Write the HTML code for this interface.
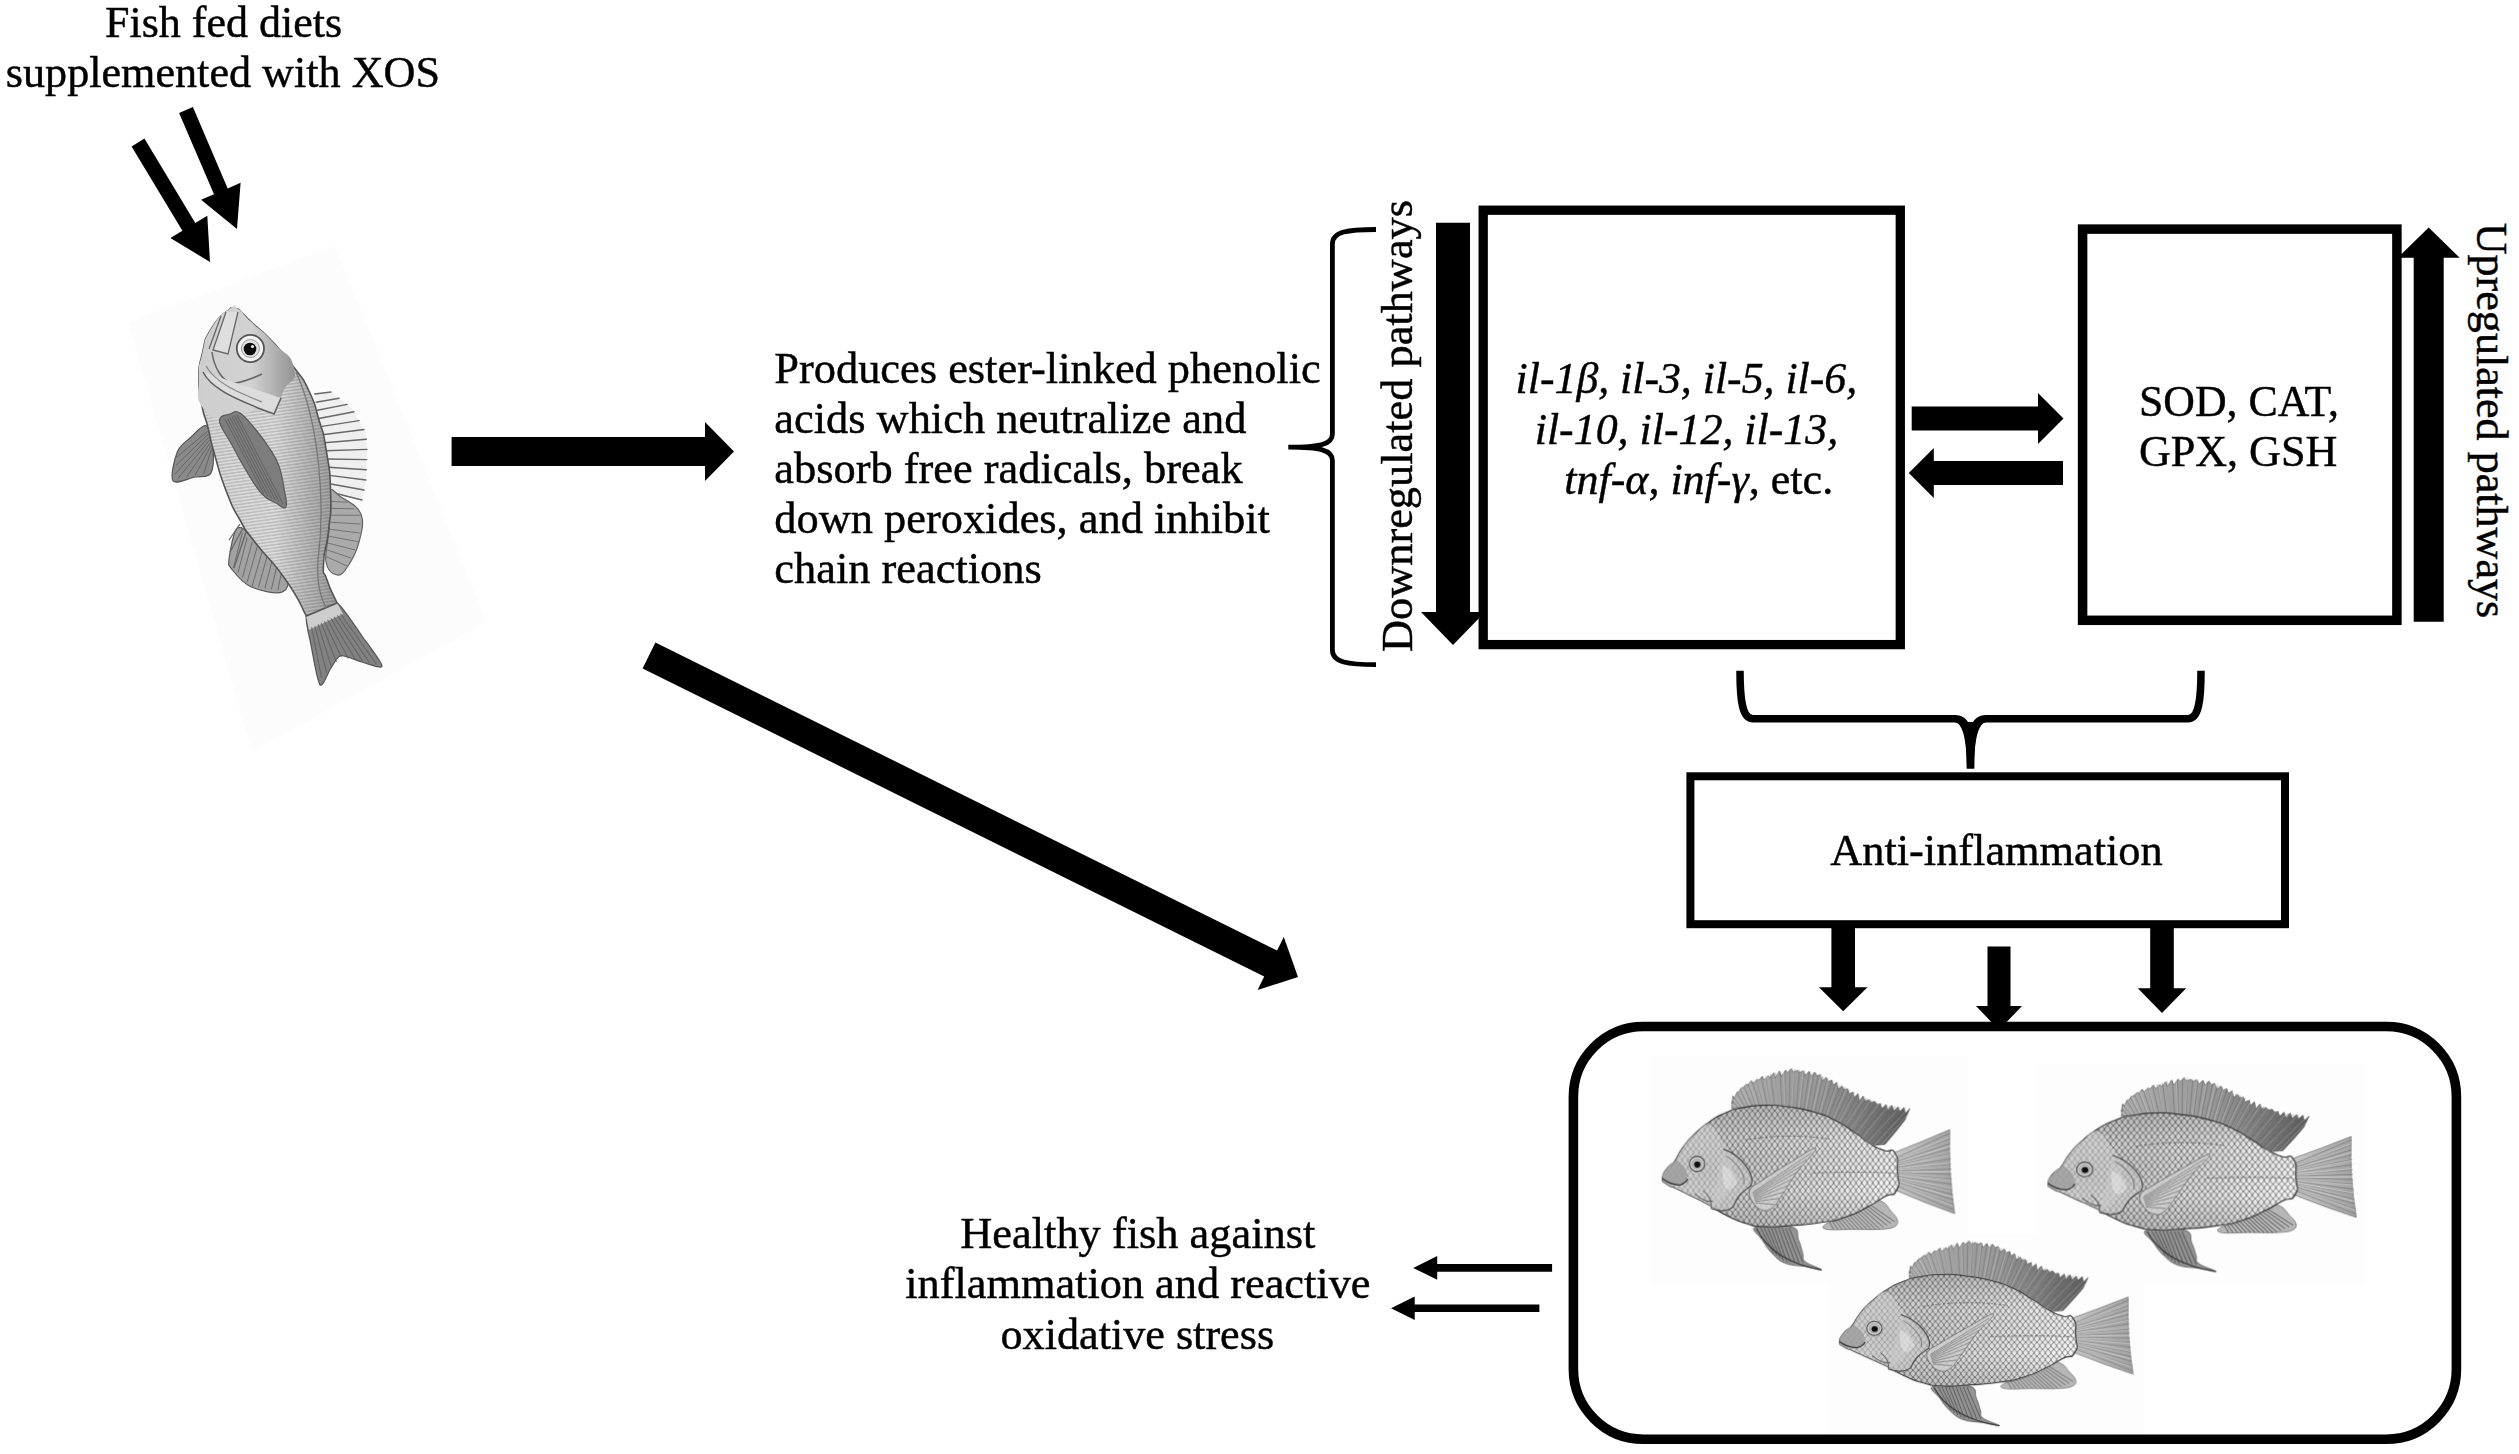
<!DOCTYPE html>
<html><head><meta charset="utf-8"><title>XOS mechanism diagram</title>
<style>
html,body{margin:0;padding:0;background:#fff;}
body{width:2519px;height:1454px;overflow:hidden;font-family:"Liberation Serif",serif;}
svg{display:block;position:absolute;left:0;top:0;}
</style></head><body>
<svg width="2519" height="1454" viewBox="0 0 2519 1454">
<defs>
<pattern id="sc" width="34" height="46" patternUnits="userSpaceOnUse"><rect width="34" height="46" fill="#f7f7f7"/><path d="M0,0 Q12,10 17,23 Q12,36 0,46 M34,0 Q22,10 17,23 Q22,36 34,46 M17,-23 Q22,-10 34,0 M17,-23 Q12,-10 0,0 M0,46 Q12,56 17,69 M34,46 Q22,56 17,69" fill="none" stroke="#505050" stroke-width="4.3"/></pattern>
<linearGradient id="bsh" x1="0" y1="0" x2="0" y2="1"><stop offset="0" stop-color="#000" stop-opacity=".20"/><stop offset=".28" stop-color="#000" stop-opacity=".03"/><stop offset=".72" stop-color="#000" stop-opacity=".0"/><stop offset="1" stop-color="#000" stop-opacity=".16"/></linearGradient>
<linearGradient id="dsh" x1="0" y1="0" x2="1" y2="0"><stop offset="0" stop-color="#adadad"/><stop offset=".5" stop-color="#979797"/><stop offset="1" stop-color="#5c5c5c"/></linearGradient>
<linearGradient id="tsh" x1="0" y1="0" x2="1" y2="0"><stop offset="0" stop-color="#c8c8c8"/><stop offset="1" stop-color="#a2a2a2"/></linearGradient>
<radialGradient id="hsh" cx=".2" cy=".55" r=".8"><stop offset="0" stop-color="#000" stop-opacity=".20"/><stop offset="1" stop-color="#000" stop-opacity="0"/></radialGradient>
<filter id="soft" x="-5%" y="-5%" width="110%" height="110%"><feGaussianBlur stdDeviation="3.5"/></filter>
<g id="til" filter="url(#soft)">
<path d="M560.0,355.0 L556.1,355.7 L560.3,314.4 L555.6,327.2 L563.3,277.8 L571.0,293.5 L588.8,254.4 L598.4,254.9 L613.7,229.1 L624.7,229.6 L643.2,208.0 L656.2,212.6 L673.7,186.0 L685.7,203.3 L708.7,178.3 L721.2,182.4 L740.9,159.0 L752.5,182.5 L777.8,155.7 L787.1,169.3 L810.6,138.5 L820.1,170.7 L845.0,126.9 L856.5,160.4 L881.5,122.4 L896.4,135.7 L916.5,112.9 L931.1,134.4 L954.8,122.7 L967.8,137.3 L989.9,125.9 L1000.9,154.4 L1025.0,129.4 L1037.3,158.2 L1059.1,134.0 L1074.5,158.5 L1093.4,149.3 L1104.5,187.0 L1128.0,165.4 L1140.5,191.7 L1161.7,182.3 L1171.8,212.0 L1192.6,196.4 L1201.7,237.8 L1225.9,218.7 L1236.9,242.0 L1257.4,234.6 L1267.4,265.8 L1290.8,255.0 L1298.4,287.6 L1321.0,264.7 L1329.2,310.4 L1352.8,279.1 L1365.8,311.6 L1388.9,300.3 L1401.2,318.6 L1421.7,310.6 L1435.7,329.4 L1456.5,325.2 L1466.3,356.2 L1491.8,331.2 L1501.4,366.1 L1526.6,335.2 L1538.1,368.8 L1563.4,345.1 L1574.8,371.8 L1598.9,349.0 L1609.2,383.6 L1635.0,355.0 L1605.0,425.0 L1550.0,495.0 L1485.0,572.0 L1420.0,578.0 L1300.0,500.0 L1180.0,425.0 L1050.0,375.0 L900.0,345.0 L760.0,335.0 L620.0,350.0 L560.0,355.0 Z" fill="url(#dsh)" stroke="#555" stroke-width="4"/>
<path d="M571.1,354.1 L560.6,340.1 M593.4,352.2 L561.9,310.3 M615.7,350.4 L566.1,281.6 M637.9,348.1 L586.1,259.5 M660.2,345.7 L606.1,237.3 M682.4,343.3 L628.0,217.5 M704.6,340.9 L654.0,202.9 M726.8,338.6 L680.0,188.2 M749.1,336.2 L706.6,174.7 M771.3,335.8 L734.7,164.8 M793.6,337.4 L762.9,155.0 M815.9,339.0 L791.1,145.1 M838.2,340.6 L820.0,137.8 M860.5,342.2 L849.2,131.8 M882.8,343.8 L878.4,125.7 M905.0,346.0 L907.7,119.6 M926.9,350.4 L937.0,116.2 M948.8,354.8 L966.4,121.1 M970.8,359.2 L995.9,126.0 M992.7,363.5 L1025.3,130.9 M1014.6,367.9 L1054.5,136.8 M1036.5,372.3 L1082.2,147.9 M1058.0,378.1 L1109.9,159.0 M1078.9,386.1 L1137.6,170.0 M1099.8,394.1 L1164.5,183.0 M1120.6,402.2 L1190.6,197.3 M1141.5,410.2 L1216.8,211.7 M1162.3,418.2 L1243.0,226.1 M1182.9,426.8 L1269.4,240.1 M1201.9,438.7 L1295.8,253.8 M1220.8,450.5 L1322.3,267.6 M1239.8,462.4 L1348.8,281.4 M1258.7,474.2 L1376.5,292.6 M1277.7,486.1 L1404.2,303.7 M1296.6,497.9 L1431.9,314.8 M1315.4,510.0 L1460.2,324.0 M1334.2,522.2 L1489.4,329.9 M1352.9,534.4 L1518.7,335.7 M1371.7,546.6 L1548.0,341.6 M1390.4,558.8 L1577.5,346.2 M1409.1,570.9 L1607.0,350.7 M1429.4,577.1 L1634.4,356.4 M1451.6,575.1 L1622.6,383.8 M1473.9,573.0 L1610.9,411.3" stroke="#555" stroke-width="5" opacity=".5" fill="none"/>
<path d="M581.3,353.2 L557.0,327.0 M623.9,349.6 L567.8,273.8 M666.4,345.0 L617.5,235.4 M709.0,340.5 L661.5,197.1 M751.5,335.9 L708.0,169.6 M794.1,337.4 L766.8,155.2 M836.7,340.5 L821.4,136.2 M879.4,343.5 L870.7,130.4 M921.7,349.3 L935.7,119.2 M963.6,357.7 L989.9,128.2 M1005.5,366.1 L1045.5,130.5 M1047.5,374.5 L1096.3,151.7 M1087.5,389.4 L1143.4,169.0 M1127.4,404.8 L1196.5,199.2 M1167.3,420.1 L1251.5,235.0 M1204.8,440.5 L1299.2,261.2 M1241.0,463.1 L1356.4,287.7 M1277.3,485.8 L1402.0,300.1 M1313.4,508.7 L1453.7,319.8 M1349.2,532.0 L1509.4,336.1 M1385.1,555.3 L1573.9,349.0 M1421.1,577.9 L1625.4,355.4 M1463.7,574.0 L1619.8,393.8" stroke="#e8e8e8" stroke-width="4" opacity=".45" fill="none"/>
<path d="M1520,630 Q1700,560 1877,483 Q1868,740 1907,992 Q1720,925 1550,850 Q1568,740 1520,630 Z" fill="url(#tsh)" stroke="#666" stroke-width="4" stroke-linejoin="round"/>
<path d="M1548.7,655.6 L1875.8,505.5 M1550.2,666.8 L1877.3,536.4 M1551.7,678.0 L1878.9,567.4 M1553.2,689.2 L1880.4,598.3 M1554.7,700.4 L1882.0,629.3 M1556.2,711.6 L1883.5,660.2 M1557.7,722.8 L1885.1,691.2 M1559.2,734.0 L1886.6,722.1 M1559.9,745.3 L1888.2,753.1 M1559.6,756.6 L1890.2,784.0 M1559.4,767.9 L1892.1,814.9 M1559.1,779.2 L1894.1,845.8 M1558.9,790.5 L1896.1,876.8 M1558.6,801.8 L1898.1,907.7 M1558.4,813.1 L1900.0,938.6 M1558.1,824.4 L1902.0,969.5" stroke="#6a6a6a" stroke-width="6" opacity=".6" fill="none"/>
<path d="M1551.3,668.8 L1873.5,530.8 M1554.0,686.5 L1876.4,582.5 M1556.6,704.2 L1879.4,634.2 M1559.3,721.9 L1882.3,685.8 M1561.9,739.6 L1885.3,737.5 M1561.6,757.4 L1888.1,789.2 M1561.1,775.3 L1891.0,840.8 M1560.7,793.2 L1893.8,892.5 M1560.2,811.1 L1896.6,944.2" stroke="#f0f0f0" stroke-width="5" opacity=".5" fill="none"/>
<path d="M1130.0,1052.0 C1154.0,1037.0 1198.0,1039.4 1250.0,1012.0 C1302.0,984.6 1346.0,933.4 1390.0,915.0 C1434.0,896.6 1444.0,908.0 1470.0,920.0 C1496.0,932.0 1502.0,953.0 1520.0,975.0 C1538.0,997.0 1556.0,1010.6 1560.0,1030.0 C1564.0,1049.4 1562.0,1060.6 1540.0,1072.0 C1518.0,1083.4 1498.0,1084.0 1450.0,1087.0 C1402.0,1090.0 1364.0,1087.0 1300.0,1087.0 C1236.0,1087.0 1164.0,1094.0 1130.0,1087.0 C1096.0,1080.0 1106.0,1067.0 1130.0,1052.0 Z" fill="#b6b6b6" stroke="#666" stroke-width="4"/>
<path d="M1147.8,1041.2 L1172.7,1087.0 M1163.4,1033.8 L1198.2,1087.0 M1179.1,1026.2 L1223.6,1087.0 M1194.7,1018.8 L1249.1,1087.0 M1210.3,1011.2 L1274.5,1087.0 M1225.9,1003.8 L1300.0,1087.0 M1241.6,996.2 L1325.4,1087.0 M1257.2,988.8 L1350.9,1087.0 M1272.8,981.2 L1376.3,1087.0 M1288.4,973.8 L1401.8,1087.0 M1304.1,966.2 L1427.2,1087.0 M1319.7,958.8 L1452.4,1085.8 M1335.3,951.2 L1475.2,1074.5 M1350.9,943.8 L1498.0,1063.2 M1366.6,936.2 L1520.8,1051.9 M1382.2,928.8 L1543.6,1040.6" stroke="#4c4c4c" stroke-width="6" opacity=".7" fill="none"/>
<path d="M700.0,1072.0 C736.0,1056.4 868.0,1056.4 920.0,1072.0 C972.0,1087.6 947.0,1118.4 960.0,1150.0 C973.0,1181.6 977.0,1203.6 985.0,1230.0 C993.0,1256.4 977.0,1261.6 1000.0,1282.0 C1023.0,1302.4 1100.0,1326.0 1100.0,1332.0 C1100.0,1338.0 1044.0,1320.0 1000.0,1312.0 C956.0,1304.0 920.0,1308.0 880.0,1292.0 C840.0,1276.0 828.0,1260.4 800.0,1232.0 C772.0,1203.6 760.0,1182.0 740.0,1150.0 C720.0,1118.0 664.0,1087.6 700.0,1072.0 Z" fill="#949494" stroke="#555" stroke-width="5"/>
<path d="M730.8,1078.0 L809.8,1232.3 M752.5,1078.0 L829.3,1247.0 M774.2,1078.0 L848.9,1261.7 M795.8,1078.0 L868.5,1276.4 M817.5,1078.0 L890.0,1285.4 M839.2,1078.0 L914.5,1286.4 M860.8,1078.0 L938.9,1287.5 M882.5,1078.0 L963.3,1288.5 M904.2,1078.0 L987.8,1289.5" stroke="#3c3c3c" stroke-width="6" opacity=".7" fill="none"/>
<path d="M705,1080 Q800,1280 1100,1332" stroke="#333" stroke-width="7" fill="none"/>
<path d="M135.0,775.0 C136.7,742.7 141.7,746.7 165.0,715.0 C188.3,683.3 173.3,721.7 205.0,680.0 C236.7,638.3 218.3,646.7 260.0,590.0 C301.7,533.3 276.7,561.7 330.0,510.0 C383.3,458.3 356.7,478.3 420.0,435.0 C483.3,391.7 453.3,408.3 520.0,380.0 C586.7,351.7 540.0,365.0 620.0,350.0 C700.0,335.0 666.7,336.7 760.0,335.0 C853.3,333.3 803.3,331.7 900.0,345.0 C996.7,358.3 956.7,348.3 1050.0,375.0 C1143.3,401.7 1096.7,383.3 1180.0,425.0 C1263.3,466.7 1226.7,451.7 1300.0,500.0 C1373.3,548.3 1340.0,534.0 1400.0,570.0 C1460.0,606.0 1431.7,589.7 1480.0,608.0 C1528.3,626.3 1518.3,581.0 1545.0,625.0 C1571.7,669.0 1556.7,665.0 1560.0,740.0 C1563.3,815.0 1581.7,800.0 1555.0,850.0 C1528.3,900.0 1538.3,856.7 1480.0,890.0 C1421.7,923.3 1456.7,910.0 1380.0,950.0 C1303.3,990.0 1343.3,978.3 1250.0,1010.0 C1156.7,1041.7 1216.7,1026.7 1100.0,1045.0 C983.3,1063.3 1016.7,1056.7 900.0,1065.0 C783.3,1073.3 836.7,1075.0 750.0,1070.0 C663.3,1065.0 716.7,1073.3 640.0,1050.0 C563.3,1026.7 600.0,1040.0 520.0,1000.0 C440.0,960.0 473.3,970.0 400.0,930.0 C326.7,890.0 360.0,910.0 300.0,880.0 C240.0,850.0 266.7,862.7 220.0,840.0 C173.3,817.3 188.3,833.7 160.0,812.0 C131.7,790.3 133.3,807.3 135.0,775.0 Z" fill="url(#sc)"/>
<path d="M135.0,775.0 C136.7,742.7 141.7,746.7 165.0,715.0 C188.3,683.3 173.3,721.7 205.0,680.0 C236.7,638.3 218.3,646.7 260.0,590.0 C301.7,533.3 276.7,561.7 330.0,510.0 C383.3,458.3 356.7,478.3 420.0,435.0 C483.3,391.7 453.3,408.3 520.0,380.0 C586.7,351.7 540.0,365.0 620.0,350.0 C700.0,335.0 666.7,336.7 760.0,335.0 C853.3,333.3 803.3,331.7 900.0,345.0 C996.7,358.3 956.7,348.3 1050.0,375.0 C1143.3,401.7 1096.7,383.3 1180.0,425.0 C1263.3,466.7 1226.7,451.7 1300.0,500.0 C1373.3,548.3 1340.0,534.0 1400.0,570.0 C1460.0,606.0 1431.7,589.7 1480.0,608.0 C1528.3,626.3 1518.3,581.0 1545.0,625.0 C1571.7,669.0 1556.7,665.0 1560.0,740.0 C1563.3,815.0 1581.7,800.0 1555.0,850.0 C1528.3,900.0 1538.3,856.7 1480.0,890.0 C1421.7,923.3 1456.7,910.0 1380.0,950.0 C1303.3,990.0 1343.3,978.3 1250.0,1010.0 C1156.7,1041.7 1216.7,1026.7 1100.0,1045.0 C983.3,1063.3 1016.7,1056.7 900.0,1065.0 C783.3,1073.3 836.7,1075.0 750.0,1070.0 C663.3,1065.0 716.7,1073.3 640.0,1050.0 C563.3,1026.7 600.0,1040.0 520.0,1000.0 C440.0,960.0 473.3,970.0 400.0,930.0 C326.7,890.0 360.0,910.0 300.0,880.0 C240.0,850.0 266.7,862.7 220.0,840.0 C173.3,817.3 188.3,833.7 160.0,812.0 C131.7,790.3 133.3,807.3 135.0,775.0 Z" fill="url(#bsh)"/>
<path d="M135.0,775.0 C136.7,742.7 141.7,746.7 165.0,715.0 C188.3,683.3 173.3,721.7 205.0,680.0 C236.7,638.3 218.3,646.7 260.0,590.0 C301.7,533.3 276.7,561.7 330.0,510.0 C383.3,458.3 356.7,478.3 420.0,435.0 C483.3,391.7 453.3,408.3 520.0,380.0 C586.7,351.7 540.0,365.0 620.0,350.0 C700.0,335.0 666.7,336.7 760.0,335.0 C853.3,333.3 803.3,331.7 900.0,345.0 C996.7,358.3 956.7,348.3 1050.0,375.0 C1143.3,401.7 1096.7,383.3 1180.0,425.0 C1263.3,466.7 1226.7,451.7 1300.0,500.0 C1373.3,548.3 1340.0,534.0 1400.0,570.0 C1460.0,606.0 1431.7,589.7 1480.0,608.0 C1528.3,626.3 1518.3,581.0 1545.0,625.0 C1571.7,669.0 1556.7,665.0 1560.0,740.0 C1563.3,815.0 1581.7,800.0 1555.0,850.0 C1528.3,900.0 1538.3,856.7 1480.0,890.0 C1421.7,923.3 1456.7,910.0 1380.0,950.0 C1303.3,990.0 1343.3,978.3 1250.0,1010.0 C1156.7,1041.7 1216.7,1026.7 1100.0,1045.0 C983.3,1063.3 1016.7,1056.7 900.0,1065.0 C783.3,1073.3 836.7,1075.0 750.0,1070.0 C663.3,1065.0 716.7,1073.3 640.0,1050.0 C563.3,1026.7 600.0,1040.0 520.0,1000.0 C440.0,960.0 473.3,970.0 400.0,930.0 C326.7,890.0 360.0,910.0 300.0,880.0 C240.0,850.0 266.7,862.7 220.0,840.0 C173.3,817.3 188.3,833.7 160.0,812.0 C131.7,790.3 133.3,807.3 135.0,775.0 Z" fill="url(#hsh)"/>
<path d="M135.0,775.0 C136.7,742.7 141.7,746.7 165.0,715.0 C188.3,683.3 173.3,721.7 205.0,680.0 C236.7,638.3 218.3,646.7 260.0,590.0 C301.7,533.3 276.7,561.7 330.0,510.0 C383.3,458.3 356.7,478.3 420.0,435.0 C483.3,391.7 453.3,408.3 520.0,380.0 C586.7,351.7 540.0,365.0 620.0,350.0 C700.0,335.0 666.7,336.7 760.0,335.0 C853.3,333.3 803.3,331.7 900.0,345.0 C996.7,358.3 956.7,348.3 1050.0,375.0 C1143.3,401.7 1096.7,383.3 1180.0,425.0 C1263.3,466.7 1226.7,451.7 1300.0,500.0 C1373.3,548.3 1340.0,534.0 1400.0,570.0 C1460.0,606.0 1431.7,589.7 1480.0,608.0 C1528.3,626.3 1518.3,581.0 1545.0,625.0 C1571.7,669.0 1556.7,665.0 1560.0,740.0 C1563.3,815.0 1581.7,800.0 1555.0,850.0 C1528.3,900.0 1538.3,856.7 1480.0,890.0 C1421.7,923.3 1456.7,910.0 1380.0,950.0 C1303.3,990.0 1343.3,978.3 1250.0,1010.0 C1156.7,1041.7 1216.7,1026.7 1100.0,1045.0 C983.3,1063.3 1016.7,1056.7 900.0,1065.0 C783.3,1073.3 836.7,1075.0 750.0,1070.0 C663.3,1065.0 716.7,1073.3 640.0,1050.0 C563.3,1026.7 600.0,1040.0 520.0,1000.0 C440.0,960.0 473.3,970.0 400.0,930.0 C326.7,890.0 360.0,910.0 300.0,880.0 C240.0,850.0 266.7,862.7 220.0,840.0 C173.3,817.3 188.3,833.7 160.0,812.0 C131.7,790.3 133.3,807.3 135.0,775.0 Z" fill="none" stroke="#3a3a3a" stroke-width="7"/>
<path d="M640,545 Q900,500 1150,540 M1050,745 Q1300,735 1540,745" stroke="#555" stroke-width="5" stroke-dasharray="14 10" fill="none"/>
<path d="M135.0,775.0 C136.7,742.7 141.7,746.7 165.0,715.0 C188.3,683.3 173.3,721.7 205.0,680.0 C236.7,638.3 218.3,646.7 260.0,590.0 C301.7,533.3 276.7,555.0 330.0,510.0 C383.3,465.0 363.3,438.3 420.0,455.0 C476.7,471.7 460.0,508.3 500.0,560.0 C540.0,611.7 520.0,563.3 540.0,610.0 C560.0,656.7 560.0,630.0 560.0,700.0 C560.0,770.0 560.0,753.3 540.0,820.0 C520.0,886.7 536.7,856.7 500.0,900.0 C463.3,943.3 463.3,940.0 430.0,950.0 C396.7,960.0 443.3,953.3 400.0,930.0 C356.7,906.7 360.0,910.0 300.0,880.0 C240.0,850.0 266.7,862.7 220.0,840.0 C173.3,817.3 188.3,833.7 160.0,812.0 C131.7,790.3 133.3,807.3 135.0,775.0 Z" fill="#d2d2d2" opacity=".5"/>
<path d="M135.0,775.0 C136.7,742.7 141.7,746.7 165.0,715.0 C188.3,683.3 176.7,688.3 205.0,680.0 C233.3,671.7 223.3,663.3 250.0,690.0 C276.7,716.7 281.7,721.7 285.0,760.0 C288.3,798.3 288.3,786.7 260.0,805.0 C231.7,823.3 233.3,812.7 200.0,815.0 C166.7,817.3 181.7,825.3 160.0,812.0 C138.3,798.7 133.3,807.3 135.0,775.0 Z" fill="#9c9c9c" opacity=".8"/>
<path d="M505,600 C620,640 700,760 672,822 C640,850 590,870 565,950 C520,985 470,975 430,960" fill="#c9c9c9" fill-opacity=".55" stroke="#444" stroke-width="7"/>
<path d="M520,640 C600,690 640,760 628,815" fill="none" stroke="#777" stroke-width="6"/>
<path d="M500,700 Q560,720 590,800 Q560,860 520,840 Q490,780 500,700 Z" fill="#f4f4f4" opacity=".4"/>
<path d="M380,850 Q440,900 430,960 M330,870 Q400,930 440,915" fill="none" stroke="#555" stroke-width="6"/>
<path d="M135,778 Q180,815 240,818 Q275,810 290,780" fill="none" stroke="#333" stroke-width="8"/>
<circle cx="345" cy="690" r="46" fill="#d2d2d2" stroke="#4a4a4a" stroke-width="7"/>
<circle cx="345" cy="690" r="31" fill="#bcbcbc" stroke="#888" stroke-width="3"/>
<circle cx="347" cy="694" r="19" fill="#0a0a0a"/>
<path d="M1065.0,595.0 C1055.0,584.2 965.0,649.0 900.0,688.0 C835.0,727.0 787.0,757.6 740.0,790.0 C693.0,822.4 676.0,823.0 665.0,850.0 C654.0,877.0 670.0,901.0 685.0,925.0 C700.0,949.0 717.0,963.4 740.0,970.0 C763.0,976.6 776.0,976.0 800.0,958.0 C824.0,940.0 830.0,923.2 860.0,880.0 C890.0,836.8 909.0,799.0 950.0,742.0 C991.0,685.0 1075.0,605.8 1065.0,595.0 Z" fill="#d0d0d0" fill-opacity=".85" stroke="#666" stroke-width="5"/>
<path d="M681.1,863.9 L1035.9,624.3 M683.3,871.7 L1007.7,662.9 M685.6,879.4 L979.5,701.6 M687.8,887.2 L951.3,740.2 M690.0,895.0 L925.1,780.2 M692.2,902.8 L899.0,820.2 M694.4,910.6 L872.8,860.3 M696.7,918.3 L844.8,899.0 M698.9,926.1 L814.9,936.3" stroke="#666" stroke-width="5" opacity=".8" fill="none"/>
</g>
</defs>
<rect x="1650" y="1056" width="318" height="228" fill="#fdfdfd"/>
<rect x="2036" y="1064" width="330" height="220" fill="#fdfdfd"/>
<rect x="1828" y="1234" width="316" height="200" fill="#fdfdfd"/>
<use href="#til" transform="translate(1640.00,1050.00) scale(0.1650,0.1650)"/>
<use href="#til" transform="translate(2024.68,1059.78) scale(0.1739,0.1589)"/>
<use href="#til" transform="translate(1817.11,1223.81) scale(0.1657,0.1515)"/>
<polygon points="128,322 335,246 487,622 252,752" fill="#fcfcfc"/>
<defs><filter id="soft2" x="-5%" y="-5%" width="110%" height="110%"><feGaussianBlur stdDeviation="0.75"/></filter>
<pattern id="ht" width="3.2" height="3.2" patternUnits="userSpaceOnUse" patternTransform="rotate(-8)"><rect width="3.2" height="3.2" fill="#dcdcdc"/><path d="M0,1.6 L3.2,1.6" stroke="#adadad" stroke-width="1"/></pattern>
<linearGradient id="lb" x1="0" y1="0" x2="1" y2="0"><stop offset="0" stop-color="#000" stop-opacity=".02"/><stop offset=".55" stop-color="#000" stop-opacity=".0"/><stop offset="1" stop-color="#000" stop-opacity=".30"/></linearGradient>
</defs>
<g filter="url(#soft2)">
<path d="M314.7,394.0 L319.0,420.0 L326.0,449.0 L329.0,470.0 L330.0,492.0 L362.0,500.0 L366.0,480.0 L367.0,452.0 L366.0,433.0 L352.0,408.0 L331.0,392.0 Z" fill="#d8d8d8" opacity=".35"/>
<path d="M314.7,394.0 L331.0,392.0 M316.1,402.2 L339.1,398.2 M317.4,410.3 L347.2,404.4 M318.8,418.5 L354.1,411.7 M320.6,426.6 L359.1,420.6 M322.5,434.7 L364.0,429.5 M324.5,442.7 L366.3,439.2 M326.3,450.8 L366.9,449.4 M327.4,459.0 L366.7,459.6 M328.6,467.2 L366.4,469.8 M329.2,475.4 L366.0,480.0 M329.6,483.7 L364.0,490.0 M330.0,492.0 L362.0,500.0" stroke="#686868" stroke-width="1.4" fill="none" stroke-linecap="round"/>
<path d="M329.0,492.0 C331.4,485.8 334.6,492.6 341.0,497.0 C347.4,501.4 357.4,505.0 361.0,514.0 C364.6,523.0 361.6,531.6 359.0,542.0 C356.4,552.4 352.4,559.4 348.0,566.0 C343.6,572.6 341.4,575.8 337.0,575.0 C332.6,574.2 327.6,571.4 326.0,562.0 C324.4,552.6 328.4,542.0 329.0,528.0 C329.6,514.0 326.6,498.2 329.0,492.0 Z" fill="#aaaaaa" stroke="#666" stroke-width="1.2"/>
<path d="M328.8,501.4 L348.1,502.3 M328.5,508.3 L354.2,508.8 M328.2,515.2 L360.4,515.3 M327.8,522.1 L360.4,524.0 M327.5,529.0 L359.7,533.0 M327.2,535.9 L359.0,541.9 M326.8,542.8 L355.0,549.9 M326.5,549.7 L351.0,558.0 M326.2,556.6 L347.0,566.0" stroke="#666" stroke-width="1" opacity=".8" fill="none"/>
<path d="M306.4,615.0 C304.9,620.2 309.2,635.7 311.0,645.0 C312.8,654.3 317.3,681.7 320.0,684.8 C322.7,687.9 328.2,671.9 331.0,668.0 C333.8,664.1 336.7,656.4 340.8,655.6 C344.9,654.8 356.5,660.6 362.0,662.0 C367.5,663.4 382.0,669.5 382.0,666.0 C382.0,662.5 367.9,644.4 362.0,636.0 C356.1,627.6 342.7,607.0 337.4,603.0 C332.1,599.0 326.1,604.4 322.0,606.0 C317.9,607.6 307.9,609.8 306.4,615.0 Z" fill="#828282" stroke="#555" stroke-width="1.2"/>
<path d="M306,615 L337,603 L343,614 L309,630 Z" fill="#cdcdcd"/>
<path d="M311.6,627.2 L321.5,677.5 M314.8,625.8 L326.6,672.4 M318.0,624.2 L331.6,667.3 M321.2,622.8 L336.5,662.0 M324.4,621.2 L341.4,657.1 M327.6,619.8 L348.4,658.4 M330.8,618.2 L355.5,659.8 M334.0,616.8 L362.5,661.1 M337.2,615.2 L369.5,662.7 M340.4,613.8 L376.5,664.2" stroke="#5a5a5a" stroke-width="1.1" opacity=".7" fill="none"/>
<path d="M237.6,528.0 C233.3,531.2 229.9,552.0 229.0,559.0 C228.1,566.0 228.7,565.3 232.4,570.0 C236.1,574.7 243.1,583.3 251.4,587.0 C259.7,590.7 276.5,594.5 282.3,592.0 C288.1,589.5 290.6,580.7 286.0,572.0 C281.4,563.3 263.1,547.3 255.0,540.0 C246.9,532.7 241.9,524.8 237.6,528.0 Z" fill="#a2a2a2" stroke="#5a5a5a" stroke-width="1.2"/>
<path d="M242.4,532.4 L233.3,568.3 M247.3,537.3 L237.9,572.9 M252.2,542.2 L242.5,577.5 M257.1,547.1 L247.1,582.1 M262.0,552.0 L252.1,586.2 M266.9,556.9 L258.5,587.2 M271.8,561.8 L264.9,588.3 M276.7,566.7 L271.4,589.4 M281.6,571.6 L277.8,590.5" stroke="#5e5e5e" stroke-width="1" opacity=".8" fill="none"/>
<path d="M240,524 L229,540 M243,528 L230,552 M246,532 L234,568" stroke="#666" stroke-width="1.3" fill="none"/>
<path d="M206.3,425.8 C202.5,424.0 194.8,433.7 190.0,438.0 C185.2,442.3 180.2,444.7 177.4,451.8 C174.6,458.9 170.1,476.5 173.0,480.7 C175.9,484.9 188.7,478.2 195.0,477.0 C201.3,475.8 207.7,478.1 210.7,473.4 C213.7,468.7 213.7,456.9 213.0,449.0 C212.3,441.1 210.1,427.6 206.3,425.8 Z" fill="#8a8a8a" stroke="#555" stroke-width="1.2"/>
<path d="M207.4,431.4 L176.5,457.3 M208.1,434.3 L175.5,465.9 M208.8,437.1 L174.5,474.5 M209.5,440.0 L178.1,478.3 M210.2,442.9 L186.7,476.8 M210.9,445.7 L195.2,475.3 M211.6,448.6 L203.7,473.8" stroke="#555" stroke-width="1" opacity=".7" fill="none"/>
<path d="M230.9,308.0 C224.6,314.5 221.6,311.9 212.0,327.6 C202.4,343.3 206.3,337.7 202.0,355.0 C197.7,372.3 199.0,362.7 199.0,379.6 C199.0,396.5 199.1,389.8 202.0,405.6 C204.9,421.4 203.5,410.2 207.8,427.0 C212.1,443.8 208.7,434.3 215.0,456.0 C221.3,477.7 218.3,470.7 226.6,492.0 C234.9,513.3 230.6,503.3 240.0,520.0 C249.4,536.7 239.5,522.0 254.8,542.0 C270.1,562.0 268.6,555.3 285.8,580.0 C303.0,604.7 299.5,604.0 306.4,616.0 L337.0,603.0 L337.0,603.0 C333.7,595.3 331.5,593.4 327.0,580.0 C322.5,566.6 323.0,579.9 323.6,562.7 C324.2,545.5 326.5,551.9 328.8,528.3 C331.1,504.7 331.5,518.4 330.6,492.0 C329.7,465.6 329.9,473.0 326.0,449.0 C322.1,425.0 324.7,439.3 319.0,420.0 C313.3,400.7 317.2,408.3 309.0,391.0 C300.8,373.7 306.5,384.3 294.4,368.0 C282.3,351.7 287.3,357.4 272.8,342.0 C258.3,326.6 262.6,332.8 251.0,321.8 C239.4,310.8 242.3,313.3 238.0,309.0 Z" fill="url(#ht)"/>
<path d="M230.9,308.0 C224.6,314.5 221.6,311.9 212.0,327.6 C202.4,343.3 206.3,337.7 202.0,355.0 C197.7,372.3 199.0,362.7 199.0,379.6 C199.0,396.5 199.1,389.8 202.0,405.6 C204.9,421.4 203.5,410.2 207.8,427.0 C212.1,443.8 208.7,434.3 215.0,456.0 C221.3,477.7 218.3,470.7 226.6,492.0 C234.9,513.3 230.6,503.3 240.0,520.0 C249.4,536.7 239.5,522.0 254.8,542.0 C270.1,562.0 268.6,555.3 285.8,580.0 C303.0,604.7 299.5,604.0 306.4,616.0 L337.0,603.0 L337.0,603.0 C333.7,595.3 331.5,593.4 327.0,580.0 C322.5,566.6 323.0,579.9 323.6,562.7 C324.2,545.5 326.5,551.9 328.8,528.3 C331.1,504.7 331.5,518.4 330.6,492.0 C329.7,465.6 329.9,473.0 326.0,449.0 C322.1,425.0 324.7,439.3 319.0,420.0 C313.3,400.7 317.2,408.3 309.0,391.0 C300.8,373.7 306.5,384.3 294.4,368.0 C282.3,351.7 287.3,357.4 272.8,342.0 C258.3,326.6 262.6,332.8 251.0,321.8 C239.4,310.8 242.3,313.3 238.0,309.0 Z" fill="url(#lb)"/>
<path d="M230.9,308.0 C224.6,314.5 221.6,311.9 212.0,327.6 C202.4,343.3 206.3,337.7 202.0,355.0 C197.7,372.3 199.0,362.7 199.0,379.6 C199.0,396.5 199.1,389.8 202.0,405.6 C204.9,421.4 203.5,410.2 207.8,427.0 C212.1,443.8 208.7,434.3 215.0,456.0 C221.3,477.7 218.3,470.7 226.6,492.0 C234.9,513.3 230.6,503.3 240.0,520.0 C249.4,536.7 239.5,522.0 254.8,542.0 C270.1,562.0 268.6,555.3 285.8,580.0 C303.0,604.7 299.5,604.0 306.4,616.0 L337.0,603.0 L337.0,603.0 C333.7,595.3 331.5,593.4 327.0,580.0 C322.5,566.6 323.0,579.9 323.6,562.7 C324.2,545.5 326.5,551.9 328.8,528.3 C331.1,504.7 331.5,518.4 330.6,492.0 C329.7,465.6 329.9,473.0 326.0,449.0 C322.1,425.0 324.7,439.3 319.0,420.0 C313.3,400.7 317.2,408.3 309.0,391.0 C300.8,373.7 306.5,384.3 294.4,368.0 C282.3,351.7 287.3,357.4 272.8,342.0 C258.3,326.6 262.6,332.8 251.0,321.8 C239.4,310.8 242.3,313.3 238.0,309.0 Z" fill="none" stroke="#555" stroke-width="1.6"/>
<path d="M296,372 C318,420 326,500 318,560 C316,585 322,600 326,608" fill="none" stroke="#777" stroke-width="1.3"/>
<path d="M230.9,308.0 C222.2,314.2 221.6,311.9 212.0,327.6 C202.4,343.3 206.3,337.7 202.0,355.0 C197.7,372.3 198.7,361.9 199.0,379.6 C199.3,397.3 194.3,395.2 203.0,408.0 C211.7,420.8 209.3,416.7 225.0,418.0 C240.7,419.3 233.3,416.3 250.0,412.0 C266.7,407.7 263.7,412.3 275.0,405.0 C286.3,397.7 277.7,402.3 284.0,390.0 C290.3,377.7 297.7,384.0 294.0,368.0 C290.3,352.0 287.1,357.4 272.8,342.0 C258.5,326.6 262.6,332.8 251.0,321.8 C239.4,310.8 244.7,313.6 238.0,309.0 C231.3,304.4 239.6,301.8 230.9,308.0 Z" fill="#d2d2d2"/>
<path d="M230.9,308.0 C222.2,314.2 221.6,311.9 212.0,327.6 C202.4,343.3 206.3,337.7 202.0,355.0 C197.7,372.3 198.7,361.9 199.0,379.6 C199.3,397.3 194.3,395.2 203.0,408.0 C211.7,420.8 209.3,416.7 225.0,418.0 C240.7,419.3 233.3,416.3 250.0,412.0 C266.7,407.7 263.7,412.3 275.0,405.0 C286.3,397.7 277.7,402.3 284.0,390.0 C290.3,377.7 297.7,384.0 294.0,368.0 C290.3,352.0 287.1,357.4 272.8,342.0 C258.5,326.6 262.6,332.8 251.0,321.8 C239.4,310.8 244.7,313.6 238.0,309.0 C231.3,304.4 239.6,301.8 230.9,308.0 Z" fill="url(#lb)"/>
<path d="M226,312 L213,350 L228,354 L238,312 M221,316 L209,349" fill="#dedede" stroke="#666" stroke-width="1.3"/>
<path d="M212,352 C214,368 222,380 232,384 C242,382 254,378 262,374" fill="none" stroke="#666" stroke-width="1.5"/>
<path d="M203,372 C212,390 240,400 258,408 L274,414 L281,398" fill="#dcdcdc" stroke="#5c5c5c" stroke-width="1.5"/>
<path d="M206,366 C216,384 242,394 262,402" fill="none" stroke="#888" stroke-width="1.2"/>
<circle cx="250.4" cy="348.5" r="13.6" fill="#f2f2f2" stroke="#555" stroke-width="1.8"/>
<circle cx="250.4" cy="348.5" r="9" fill="#e2e2e2" stroke="#888" stroke-width=".8"/>
<circle cx="250" cy="349" r="6.3" fill="#080808"/>
<circle cx="252.5" cy="346.5" r="1.6" fill="#eee"/>
<path d="M219.5,421.0 C219.1,414.8 225.9,415.6 230.0,414.0 C234.1,412.4 234.8,409.8 240.0,413.0 C245.2,416.2 250.0,422.8 256.0,430.0 C262.0,437.2 265.4,441.8 270.0,449.0 C274.6,456.2 276.2,458.2 279.0,466.0 C281.8,473.8 282.6,479.8 284.0,488.0 C285.4,496.2 287.6,504.0 286.0,507.0 C284.4,510.0 280.8,505.6 276.0,503.0 C271.2,500.4 267.8,500.2 262.0,494.0 C256.2,487.8 253.0,481.8 247.0,472.0 C241.0,462.2 237.5,455.2 232.0,445.0 C226.5,434.8 219.9,427.2 219.5,421.0 Z" fill="#7d7d7d" stroke="#5a5a5a" stroke-width="1.2"/>
<path d="M225.2,419.5 L263.9,494.0 M227.5,418.5 L267.8,496.0 M229.8,417.5 L271.6,498.0 M232.2,416.5 L275.4,500.0 M234.5,415.5 L279.2,502.0 M236.8,414.5 L283.1,504.0" stroke="#555" stroke-width="1" opacity=".7" fill="none"/>
</g>
<g fill="#000">
<polygon points="179.1,113.0 214.0,194.3 201.1,199.8 237.0,229.0 240.6,182.8 227.7,188.4 192.9,107.0"/>
<polygon points="131.6,146.4 182.4,230.8 170.4,238.0 210.0,262.0 207.3,215.8 195.3,223.0 144.4,138.6"/>
<polygon points="451.6,466.0 705.0,466.0 705.0,481.0 734.0,451.5 705.0,422.0 705.0,437.0 451.6,437.0"/>
<polygon points="642.6,668.4 1264.2,976.5 1257.6,990.0 1298.0,977.1 1283.8,937.1 1277.1,950.6 655.4,642.4"/>
<polygon points="1436.0,222.7 1436.0,612.0 1421.0,612.0 1453.0,645.0 1485.0,612.0 1470.0,612.0 1470.0,222.7"/>
<polygon points="2443.7,621.7 2443.7,257.8 2459.7,257.8 2428.7,227.5 2397.7,257.8 2413.7,257.8 2413.7,621.7"/>
</g>
<rect x="1483.2" y="210.2" width="417.1" height="434.4" rx="0.0" fill="#fff" stroke="#000" stroke-width="9.3"/>
<rect x="2082.6" y="229.1" width="314.3" height="391.2" rx="0.0" fill="#fff" stroke="#000" stroke-width="9.5"/>
<g fill="#000">
<polygon points="1911.7,430.5 2038.0,430.5 2038.0,444.0 2063.5,418.5 2038.0,393.0 2038.0,406.5 1911.7,406.5"/>
<polygon points="2063.0,461.0 1933.8,461.0 1933.8,448.0 1908.8,473.0 1933.8,498.0 1933.8,485.0 2063.0,485.0"/>
</g>
<path d="M1376,229.5 C1348,229.5 1332.4,231.5 1332.4,244 L1332.4,434 C1332.4,444.5 1320,447.2 1288.3,447.2 C1320,447.2 1332.4,450 1332.4,460.5 L1332.4,650 C1332.4,662.5 1348,664.7 1376,664.7" fill="none" stroke="#000" stroke-width="4.8"/>
<path d="M1740,670.7 C1740,702 1742.5,718.8 1753,718.8 L1955,718.8 C1966,718.8 1970.5,728 1970.5,768.6 C1970.5,728 1975,718.8 1986,718.8 L2188,718.8 C2198.5,718.8 2201,702 2201,670.7" fill="none" stroke="#000" stroke-width="7.5" stroke-linejoin="miter"/>
<path d="M1955,722 L1986,722 C1978,724 1974.2,740 1974.2,768.6 L1966.8,768.6 C1966.8,740 1963,724 1955,722 Z" fill="#000"/>
<rect x="1690.4" y="776.3" width="594.6" height="147.9" rx="0.0" fill="#fff" stroke="#000" stroke-width="8.0"/>
<g fill="#000">
<polygon points="1831.4,926.0 1831.4,987.2 1818.9,987.2 1843.2,1011.2 1867.5,987.2 1855.0,987.2 1855.0,926.0"/>
<polygon points="1987.5,946.5 1987.5,1006.0 1976.0,1006.0 1999.0,1030.0 2022.0,1006.0 2010.5,1006.0 2010.5,946.5"/>
<polygon points="2150.2,926.0 2150.2,988.3 2137.8,988.3 2162.0,1013.0 2186.2,988.3 2173.8,988.3 2173.8,926.0"/>
</g>
<rect x="1573.4" y="1026.5" width="883.0" height="412.8" rx="70.2" fill="none" stroke="#000" stroke-width="9.6"/>
<g fill="#000">
<polygon points="1552.1,1264.1 1437.2,1264.1 1437.2,1256.0 1413.2,1267.9 1437.2,1279.8 1437.2,1271.7 1552.1,1271.7"/>
<polygon points="1539.4,1304.4 1414.7,1304.4 1414.7,1296.5 1391.0,1308.2 1414.7,1319.9 1414.7,1312.0 1539.4,1312.0"/>
</g>
<g font-family="'Liberation Serif', serif" font-size="44" fill="#000" stroke="#000" stroke-width="0.45">
<text x="223.5" y="36.6" text-anchor="middle" textLength="237.0" lengthAdjust="spacingAndGlyphs">Fish fed diets</text>
<text x="5.8" y="86.7" textLength="434.2" lengthAdjust="spacingAndGlyphs">supplemented with XOS</text>
<text x="774.3" y="382.5" font-size="44.4">Produces ester-linked phenolic</text>
<text x="774.3" y="432.5" font-size="44.4">acids which neutralize and</text>
<text x="774.3" y="482.5" font-size="44.4">absorb free radicals, break</text>
<text x="774.3" y="532.5" font-size="44.4">down peroxides, and inhibit</text>
<text x="774.3" y="582.5" font-size="44.4">chain reactions</text>
<text x="1515.6" y="393.4" textLength="341.6" lengthAdjust="spacingAndGlyphs" font-style="italic">il-1β, il-3, il-5, il-6,</text>
<text x="1534.7" y="443.5" textLength="303.5" lengthAdjust="spacingAndGlyphs" font-style="italic">il-10, il-12, il-13,</text>
<text x="1564.2" y="493.5" font-style="italic">tnf-α<tspan font-style="normal">, </tspan>inf-γ<tspan font-style="normal">, etc.</tspan></text>
<text x="2138.9" y="416.0" textLength="200.0" lengthAdjust="spacingAndGlyphs">SOD, CAT,</text>
<text x="2138.9" y="466.0" textLength="198.4" lengthAdjust="spacingAndGlyphs">GPX, GSH</text>
<text x="1830.3" y="864.6" textLength="332.4" lengthAdjust="spacingAndGlyphs">Anti-inflammation</text>
<text x="960.3" y="1248.2" textLength="355.0" lengthAdjust="spacingAndGlyphs">Healthy fish against</text>
<text x="905.2" y="1298.1" textLength="465.3" lengthAdjust="spacingAndGlyphs">inflammation and reactive</text>
<text x="1000.5" y="1348.6" textLength="273.6" lengthAdjust="spacingAndGlyphs">oxidative stress</text>
<text transform="translate(1411.5,652) rotate(-90)" textLength="452" lengthAdjust="spacingAndGlyphs">Downregulated pathways</text>
<text transform="translate(2476.5,222.7) rotate(90)" textLength="395.5" lengthAdjust="spacingAndGlyphs">Upregulated pathways</text>
</g>
</svg>
</body></html>
